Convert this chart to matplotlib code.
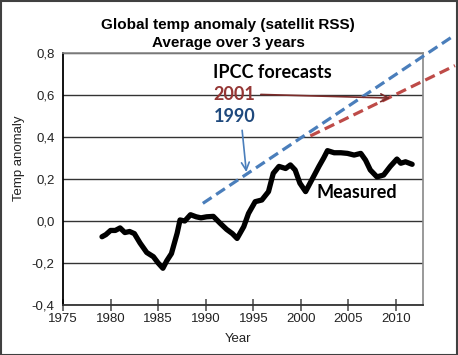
import matplotlib
matplotlib.use("Agg")
import matplotlib.pyplot as plt
from matplotlib.ticker import FuncFormatter
from matplotlib.patches import Rectangle

# ---- data ----
years = [1979.1, 1979.5, 1980.0, 1980.5, 1981.0, 1981.5, 1982.0, 1982.5, 1983.1, 1983.8,
         1984.5, 1985.0, 1985.5, 1985.9, 1986.4, 1987.0, 1987.3, 1987.8, 1988.4, 1989.0,
         1989.5, 1990.1, 1990.8, 1991.5, 1992.2, 1992.8, 1993.3, 1994.0, 1994.5, 1995.2,
         1995.9, 1996.6, 1997.1, 1997.7, 1998.4, 1998.9, 1999.4, 1999.9, 2000.5, 2001.2,
         2001.9, 2002.4, 2002.8, 2003.5, 2004.2, 2004.9, 2005.6, 2006.3, 2006.8, 2007.3,
         2008.0, 2008.7, 2009.4, 2010.1, 2010.5, 2011.0, 2011.7]
measured = [-0.075, -0.065, -0.045, -0.045, -0.033, -0.055, -0.05, -0.06, -0.105, -0.15,
            -0.17, -0.2, -0.225, -0.19, -0.155, -0.058, 0.005, 0.0, 0.03, 0.02,
            0.015, 0.02, 0.022, -0.01, -0.04, -0.06, -0.083, -0.027, 0.036, 0.092,
            0.1, 0.14, 0.227, 0.26, 0.25, 0.267, 0.243, 0.18, 0.14, 0.2,
            0.26, 0.30, 0.335, 0.325, 0.325, 0.322, 0.314, 0.322, 0.29, 0.243,
            0.21, 0.219, 0.26, 0.295, 0.275, 0.282, 0.27]

ipcc1990_years = [1989.7, 2016.2]
ipcc1990_values = [0.084, 0.886]
ipcc2001_years = [2001.0, 2016.2]
ipcc2001_values = [0.405, 0.74]

xticks = [1975, 1980, 1985, 1990, 1995, 2000, 2005, 2010]
yticks = [-0.4, -0.2, 0.0, 0.2, 0.4, 0.6, 0.8]

W, H = 458, 355
fig = plt.figure(figsize=(W / 100, H / 100), dpi=100)
fig.patch.set_facecolor("white")

ax = fig.add_axes([63 / W, 1 - 305 / H, (423 - 63) / W, (305 - 53) / H])
ax.set_xlim(1975, 2012.84)
ax.set_ylim(-0.4, 0.8)

ax.set_xticks(xticks)
ax.set_yticks(yticks)
ax.yaxis.set_major_formatter(FuncFormatter(lambda v, p: f"{v:.1f}".replace(".", ",")))
ax.tick_params(axis="x", direction="inout", length=8, width=1.2, color="#555555",
               labelsize=9.5, pad=2, labelcolor="#222222")
ax.tick_params(axis="y", length=0, labelsize=9.5, pad=6, labelcolor="#222222")
for lab in ax.get_xticklabels() + ax.get_yticklabels():
    lab.set_family("Liberation Sans")

ax.grid(axis="y", color="#333333", linewidth=1.0)
ax.set_axisbelow(True)
for s in ["top", "right"]:
    ax.spines[s].set_color("#888888")
    ax.spines[s].set_linewidth(1.2)
ax.spines["left"].set_color("black")
ax.spines["left"].set_linewidth(1.3)
ax.spines["bottom"].set_color("#333333")
ax.spines["bottom"].set_linewidth(1.3)

ax.plot(years, measured, color="black", linewidth=3.8, solid_capstyle="round",
        solid_joinstyle="round", zorder=4)
ax.plot(ipcc1990_years, ipcc1990_values, color="#4A7EBB", linewidth=2.3,
        dashes=(3.3, 1.7), clip_on=False, zorder=3)
ax.plot(ipcc2001_years, ipcc2001_values, color="#BE4B48", linewidth=2.3,
        dashes=(3.3, 1.7), clip_on=False, zorder=3)

# annotations
ax.text(1990.8, 0.705, "IPCC forecasts", fontsize=13, fontweight="bold",
        family="Lato", color="black", va="center", ha="left")
ax.text(1990.8, 0.602, "2001", fontsize=13, fontweight="bold",
        family="Lato", color="#953735", va="center", ha="left")
ax.text(1990.8, 0.497, "1990", fontsize=13, fontweight="bold",
        family="Lato", color="#1F497D", va="center", ha="left")
ax.text(2001.6, 0.138, "Measured", fontsize=13, fontweight="bold",
        family="Lato", color="black", va="center", ha="left")

ax.annotate("", xy=(2009.7, 0.585), xytext=(1995.5, 0.603),
            arrowprops=dict(arrowstyle="->", color="#7B2C2A", lw=1.2,
                            mutation_scale=14))
ax.annotate("", xy=(1994.3, 0.22), xytext=(1993.8, 0.445),
            arrowprops=dict(arrowstyle="->", color="#4A7EBB", lw=1.2,
                            mutation_scale=14))

fig.text(228 / W, 1 - 25 / H, "Global temp anomaly (satellit RSS)", fontsize=11,
         fontweight="bold", family="Liberation Sans", ha="center", va="center")
fig.text(228 / W, 1 - 43 / H, "Average over 3 years", fontsize=11,
         fontweight="bold", family="Liberation Sans", ha="center", va="center")
fig.text(19 / W, 1 - 158 / H, "Temp anomaly", fontsize=9.5, family="Liberation Sans",
         rotation=90, ha="center", va="center", color="#222222")
fig.text(238 / W, 1 - 339 / H, "Year", fontsize=9.5, family="Liberation Sans",
         ha="center", va="center", color="#222222")

fig.patches.append(Rectangle((0.5 / W, 0.5 / H), 1 - 1.5 / W, 1 - 1.5 / H,
                             transform=fig.transFigure, fill=False,
                             edgecolor="#404040", linewidth=1.5))

fig.savefig("out.png", dpi=100)
